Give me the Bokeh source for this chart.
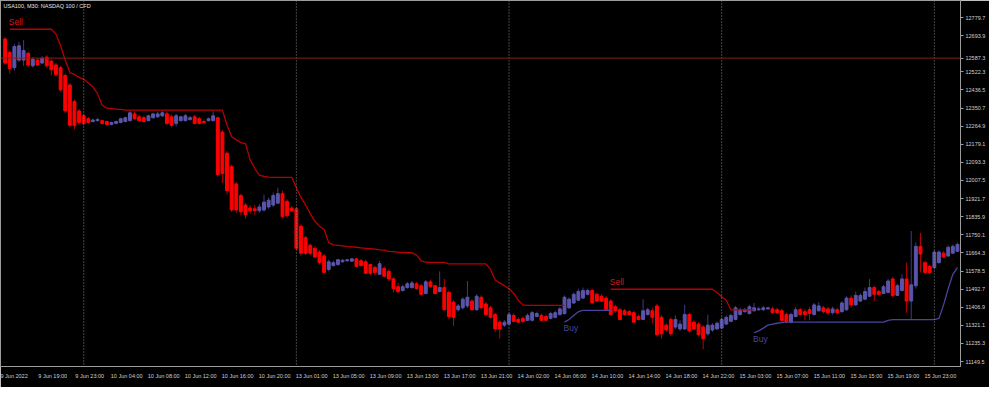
import numpy as np
import pandas as pd
from bokeh.plotting import figure
from bokeh.models import (Range1d, LinearAxis, FixedTicker, NumeralTickFormatter,
                          Span, Label, ColumnDataSource)
from bokeh.core.properties import value
from bokeh.embed import file_html
from bokeh.resources import INLINE

chart_title = "USA100, M30:  NASDAQ 100 / CFD"

# M30 sessions (date, first bar, last bar)
sessions = [("2022-06-09", "15:30", "23:30"), ("2022-06-10", "01:00", "23:30"),
            ("2022-06-13", "01:00", "23:30"), ("2022-06-14", "01:00", "23:30"),
            ("2022-06-15", "01:00", "23:30"), ("2022-06-16", "01:00", "03:30")]

opens = [12678, 12614, 12542, 12578, 12578, 12610, 12551, 12578, 12564, 12592,
         12573, 12555, 12542, 12505, 12460, 12382, 12337, 12314, 12300, 12287,
         12291, 12291, 12287, 12273, 12278, 12282, 12287, 12291, 12323, 12309,
         12305, 12291, 12305, 12309, 12314, 12323, 12309, 12278, 12291, 12291,
         12296, 12309, 12300, 12287, 12291, 12291, 12305, 12237, 12137, 12073,
         11991, 11936, 11891, 11877, 11873, 11864, 11868, 11882, 11891, 11900,
         11945, 11909, 11877, 11873, 11791, 11736, 11700, 11686, 11668, 11650,
         11586, 11604, 11609, 11622, 11627, 11625, 11636, 11627, 11622, 11609,
         11595, 11563, 11591, 11577, 11541, 11504, 11486, 11500, 11500, 11518,
         11509, 11472, 11527, 11509, 11481, 11500, 11477, 11431, 11395, 11404,
         11413, 11436, 11395, 11454, 11422, 11404, 11372, 11336, 11322, 11327,
         11368, 11349, 11354, 11345, 11345, 11363, 11368, 11363, 11354, 11359,
         11372, 11377, 11404, 11427, 11440, 11450, 11468, 11486, 11468, 11459,
         11450, 11436, 11409, 11395, 11390, 11386, 11381, 11363, 11349, 11372,
         11390, 11413, 11359, 11322, 11349, 11313, 11304, 11304, 11372, 11336,
         11327, 11313, 11281, 11299, 11304, 11308, 11327, 11340, 11349, 11372,
         11386, 11377, 11390, 11395, 11395, 11399, 11399, 11395, 11390, 11372,
         11336, 11363, 11395, 11386, 11395, 11372, 11390, 11404, 11399, 11381,
         11395, 11386, 11395, 11450, 11418, 11436, 11445, 11459, 11500, 11481,
         11472, 11477, 11541, 11463, 11486, 11541, 11436, 11509, 11695, 11618,
         11600, 11595, 11618, 11663, 11650, 11663, 11672]

closes = [12564, 12537, 12642, 12646, 12623, 12555, 12582, 12555, 12587, 12551,
          12532, 12510, 12437, 12337, 12269, 12269, 12282, 12278, 12282, 12294,
          12296, 12278, 12273, 12282, 12287, 12300, 12305, 12328, 12300, 12291,
          12287, 12314, 12323, 12323, 12328, 12278, 12269, 12314, 12309, 12314,
          12305, 12278, 12278, 12282, 12300, 12314, 12036, 12041, 11959, 11868,
          11868, 11859, 11845, 11864, 11864, 11882, 11905, 11914, 11936, 11945,
          11836, 11841, 11864, 11686, 11663, 11663, 11663, 11645, 11618, 11572,
          11622, 11618, 11632, 11629, 11632, 11636, 11600, 11604, 11568, 11568,
          11572, 11613, 11554, 11541, 11495, 11481, 11504, 11518, 11522, 11495,
          11468, 11527, 11504, 11472, 11500, 11395, 11363, 11359, 11413, 11445,
          11454, 11395, 11459, 11404, 11372, 11359, 11304, 11304, 11336, 11372,
          11340, 11336, 11340, 11368, 11381, 11377, 11345, 11345, 11377, 11381,
          11399, 11454, 11445, 11468, 11481, 11486, 11486, 11427, 11436, 11436,
          11395, 11372, 11390, 11349, 11372, 11372, 11336, 11349, 11390, 11395,
          11359, 11277, 11281, 11299, 11281, 11349, 11327, 11372, 11295, 11304,
          11277, 11258, 11322, 11322, 11331, 11349, 11359, 11368, 11404, 11395,
          11395, 11409, 11404, 11399, 11404, 11404, 11381, 11381, 11345, 11340,
          11372, 11395, 11372, 11372, 11377, 11418, 11413, 11386, 11381, 11399,
          11381, 11427, 11450, 11418, 11463, 11463, 11481, 11500, 11468, 11468,
          11504, 11531, 11463, 11509, 11541, 11436, 11513, 11695, 11659, 11572,
          11572, 11668, 11668, 11645, 11691, 11695, 11704]

highs = [12687, 12623, 12655, 12664, 12673, 12619, 12592, 12587, 12596, 12601,
         12582, 12564, 12551, 12514, 12469, 12391, 12346, 12323, 12309, 12300,
         12305, 12296, 12291, 12287, 12291, 12305, 12309, 12337, 12332, 12319,
         12314, 12319, 12328, 12332, 12337, 12332, 12319, 12323, 12314, 12323,
         12314, 12319, 12309, 12296, 12305, 12337, 12309, 12246, 12146, 12082,
         12000, 11945, 11900, 11891, 11891, 11895, 11941, 11927, 11950, 11973,
         11959, 11918, 11886, 11882, 11800, 11745, 11709, 11695, 11677, 11659,
         11632, 11627, 11636, 11636, 11636, 11641, 11641, 11636, 11632, 11613,
         11604, 11627, 11600, 11586, 11550, 11522, 11513, 11527, 11531, 11527,
         11518, 11536, 11536, 11513, 11577, 11541, 11486, 11440, 11422, 11454,
         11531, 11445, 11468, 11463, 11431, 11413, 11381, 11345, 11345, 11381,
         11377, 11359, 11363, 11377, 11390, 11386, 11377, 11372, 11386, 11390,
         11409, 11463, 11454, 11477, 11495, 11500, 11495, 11495, 11477, 11468,
         11459, 11445, 11418, 11404, 11399, 11395, 11390, 11372, 11445, 11404,
         11404, 11422, 11368, 11331, 11359, 11368, 11345, 11418, 11381, 11345,
         11336, 11322, 11372, 11331, 11340, 11359, 11368, 11377, 11413, 11404,
         11404, 11418, 11427, 11409, 11413, 11409, 11409, 11404, 11399, 11381,
         11381, 11409, 11404, 11399, 11409, 11427, 11431, 11413, 11409, 11409,
         11404, 11436, 11459, 11463, 11481, 11472, 11500, 11541, 11509, 11490,
         11513, 11541, 11550, 11518, 11563, 11618, 11768, 11713, 11759, 11627,
         11609, 11677, 11677, 11672, 11700, 11704, 11713]

lows = [12555, 12514, 12528, 12569, 12551, 12546, 12542, 12551, 12560, 12542,
        12505, 12501, 12428, 12328, 12259, 12250, 12273, 12269, 12278, 12282,
        12287, 12273, 12269, 12269, 12273, 12278, 12282, 12287, 12296, 12287,
        12282, 12287, 12300, 12305, 12309, 12269, 12259, 12264, 12287, 12287,
        12291, 12273, 12273, 12278, 12287, 12287, 12027, 11996, 11941, 11859,
        11854, 11841, 11827, 11850, 11845, 11854, 11859, 11873, 11882, 11895,
        11827, 11832, 11859, 11677, 11650, 11654, 11654, 11641, 11609, 11568,
        11577, 11600, 11604, 11618, 11622, 11622, 11595, 11600, 11563, 11559,
        11559, 11559, 11550, 11531, 11477, 11472, 11481, 11495, 11495, 11490,
        11463, 11468, 11500, 11468, 11477, 11390, 11349, 11318, 11386, 11395,
        11404, 11390, 11390, 11399, 11368, 11354, 11290, 11258, 11313, 11322,
        11336, 11331, 11331, 11340, 11340, 11359, 11340, 11340, 11349, 11354,
        11368, 11372, 11399, 11422, 11436, 11445, 11463, 11422, 11431, 11431,
        11390, 11368, 11381, 11345, 11368, 11368, 11331, 11345, 11345, 11368,
        11331, 11268, 11258, 11290, 11272, 11304, 11295, 11299, 11286, 11299,
        11268, 11208, 11272, 11290, 11299, 11304, 11322, 11336, 11345, 11368,
        11381, 11372, 11386, 11390, 11390, 11395, 11377, 11377, 11340, 11331,
        11331, 11359, 11368, 11345, 11345, 11368, 11386, 11377, 11372, 11372,
        11372, 11381, 11390, 11404, 11413, 11431, 11440, 11454, 11436, 11459,
        11468, 11472, 11454, 11459, 11481, 11381, 11349, 11495, 11572, 11563,
        11563, 11586, 11613, 11641, 11645, 11659, 11668]

# trailing indicator lines (None = line not shown on that bar)
sell_line = ([None] +
             [12724, 12724, 12724, 12724, 12724, 12724, 12724, 12724, 12724, 12724,
              12701, 12646, 12578, 12519, 12510, 12496, 12487, 12469, 12450, 12419,
              12364, 12350, 12348, 12346, 12344,
              12341, 12341, 12341, 12341, 12341, 12341, 12341, 12341, 12341, 12341, 12341,
              12341, 12341, 12341, 12341, 12341, 12341, 12341, 12341, 12341, 12341, 12341,
              12269, 12215, 12200, 12187, 12182, 12105, 12064, 12033, 12027, 12023,
              12022, 12022, 12022, 12022, 12022,
              11973, 11927, 11891, 11850, 11814, 11791, 11775, 11713, 11702, 11700,
              11698, 11695, 11693, 11691, 11688, 11686, 11684, 11682, 11679, 11677,
              11672, 11670, 11668, 11666, 11665, 11665, 11654, 11627, 11620,
              11619, 11619, 11619, 11619,
              11612, 11612, 11612, 11612, 11612, 11612, 11612, 11612, 11612,
              11586, 11536, 11522, 11509, 11495, 11472, 11440, 11418,
              11416, 11416, 11416, 11416, 11416, 11416, 11416, 11416, 11416] +
             [None] * 9 +
             [11492, 11492, 11492, 11492, 11492, 11492, 11492, 11492, 11492, 11492,
              11492, 11492, 11492, 11492, 11492, 11492, 11492, 11492, 11492, 11492,
              11492, 11492, 11492, 11477, 11457, 11440,
              11394, 11394, 11394, 11394, 11394, 11394] +
             [None] * 44)

buy_line = ([None] * 121 +
            [11336, 11349, 11368, 11386, 11392, 11392, 11392, 11392, 11392, 11392, 11392] +
            [None] * 30 +
            [11286, 11295, 11308, 11322, 11327, 11331, 11334,
             11336, 11336, 11336, 11336, 11336, 11336, 11336, 11336, 11336, 11336, 11336,
             11336, 11336, 11336, 11336, 11336, 11336, 11336, 11336, 11336, 11336, 11336,
             11345,
             11348, 11348, 11348, 11348, 11348, 11348, 11348, 11348, 11348, 11348,
             11354, 11418, 11495, 11563, 11595])

price_ticks = [11149.5, 11235.3, 11321.1, 11406.9, 11492.7, 11578.5, 11664.3,
               11750.1, 11835.9, 11921.7, 12007.5, 12093.3, 12179.1, 12264.9,
               12350.7, 12436.5, 12522.3, 12608.1, 12693.9, 12779.7]

time_labels = ["9 Jun 2022", "9 Jun 19:00", "9 Jun 23:00", "10 Jun 04:00", "10 Jun 08:00",
               "10 Jun 12:00", "10 Jun 16:00", "10 Jun 20:00", "13 Jun 01:00",
               "13 Jun 05:00", "13 Jun 09:00", "13 Jun 13:00", "13 Jun 17:00",
               "13 Jun 21:00", "14 Jun 02:00", "14 Jun 06:00", "14 Jun 10:00",
               "14 Jun 14:00", "14 Jun 18:00", "14 Jun 22:00", "15 Jun 03:00",
               "15 Jun 07:00", "15 Jun 11:00", "15 Jun 15:00", "15 Jun 19:00",
               "15 Jun 23:00"]

level_price = 12587.3

# ---------------------------------------------------------------------------
times = []
for d, a, b in sessions:
    times += list(pd.date_range(f"{d} {a}", f"{d} {b}", freq="30min"))
n = len(times)
idx = np.arange(n)

o = np.array(opens, float)
c = np.array(closes, float)
h = np.array(highs, float)
l = np.array(lows, float)
up = c >= o

BULL, BULL_WICK = "#5a55aa", "#3d3a8c"
BEAR, BEAR_WICK = "#ff0000", "#c00000"

src = ColumnDataSource(dict(
    x=idx, top=np.maximum(o, c), bottom=np.minimum(o, c), high=h, low=l,
    body=[BULL if u else BEAR for u in up],
    wick=[BULL_WICK if u else BEAR_WICK for u in up]))

X0, X1 = -1.0, 206.66
SHIFT = 3.3  # label text begins at its bar

p = figure(width=989, height=387, x_range=Range1d(X0, X1),
           y_range=Range1d(11126.0, 12860.3),
           output_backend="svg", toolbar_location=None,
           x_axis_location=None, y_axis_location="right",
           background_fill_color="black", border_fill_color="black",
           min_border_left=0, min_border_top=0, min_border_right=29, min_border_bottom=21)
p.grid.visible = False
p.outline_line_color = "#9c9c9c"

# day separators
for i in range(1, n):
    if times[i].date() != times[i - 1].date():
        p.add_layout(Span(location=int(i), dimension="height", line_color="#8a8a8a",
                          line_dash="1 2", line_width=1))
p.add_layout(Span(location=level_price, dimension="width", line_color="#8a1c1c",
                  line_width=1))

p.segment(x0="x", y0="low", x1="x", y1="high", line_color="wick", line_width=1, source=src)
p.vbar(x="x", width=0.62, top="top", bottom="bottom", fill_color="body",
       line_color="body", line_width=1, source=src)

sell = np.array([np.nan if v is None else v for v in sell_line], float)
buy = np.array([np.nan if v is None else v for v in buy_line], float)
p.line(idx, sell, line_color="#b80000", line_width=1.3)
p.line(idx, buy, line_color="#4a449e", line_width=1.3)


def starts(arr):
    ok = ~np.isnan(arr)
    prev = np.concatenate([[False], ok[:-1]])
    return np.where(ok & ~prev)[0]


ss = starts(sell)
bs = starts(buy)
p.text(x=ss, y=sell[ss], text=["Sell"] * len(ss), text_color="#d41a1a",
       text_font=value("Liberation Sans"), text_font_size="8.5px",
       text_align="left", text_baseline="bottom", x_offset=-1, y_offset=-2)
p.text(x=bs, y=buy[bs], text=["Buy"] * len(bs), text_color="#4a449e",
       text_font=value("Liberation Sans"), text_font_size="8.5px",
       text_align="left", text_baseline="top", x_offset=-1, y_offset=1)

# right price axis: the level marker covers the scale label right beside it
shown_ticks = [t for t in price_ticks if abs(t - level_price) > 30] + [level_price]
ya = p.yaxis[0]
ya.ticker = FixedTicker(ticks=sorted(shown_ticks))
ya.formatter = NumeralTickFormatter(format="0.0")
ya.major_label_text_font = "Liberation Sans"
ya.major_label_text_font_size = "5.5px"
ya.major_label_text_color = "#d0d0d0"
ya.major_label_standoff = 2
ya.major_tick_out = 3
ya.major_tick_in = 0
ya.minor_tick_line_color = None
ya.major_tick_line_color = "#9c9c9c"
ya.axis_line_color = "#9c9c9c"

# bottom time axis
name_to_idx = {f"{t.day} {t.strftime('%b %H:%M')}": i for i, t in enumerate(times)}
tick_vals = []
for lab in time_labels:
    if lab in name_to_idx:
        tick_vals.append(int(name_to_idx[lab]))
    else:
        tick_vals.append(-1.5)
p.extra_x_ranges = {"lab": Range1d(X0 - SHIFT, X1 - SHIFT)}
xa = LinearAxis(x_range_name="lab", ticker=FixedTicker(ticks=tick_vals),
                major_label_overrides={k: v for k, v in zip(tick_vals, time_labels)})
xa.major_label_text_font = "Liberation Sans"
xa.major_label_text_font_size = "5.5px"
xa.major_label_text_color = "#d0d0d0"
xa.major_label_standoff = 6
xa.major_tick_out = 0
xa.major_tick_in = 0
xa.minor_tick_line_color = None
xa.major_tick_line_color = None
xa.axis_line_color = "#9c9c9c"
p.add_layout(xa, "below")

p.add_layout(Label(x=X0, y=12860.3, x_offset=3, y_offset=-2, text=chart_title,
                   text_baseline="top", text_font="Liberation Sans",
                   text_font_size="5.5px", text_color="#e6e6e6"))

open("out.html", "w").write(file_html(p, INLINE))
